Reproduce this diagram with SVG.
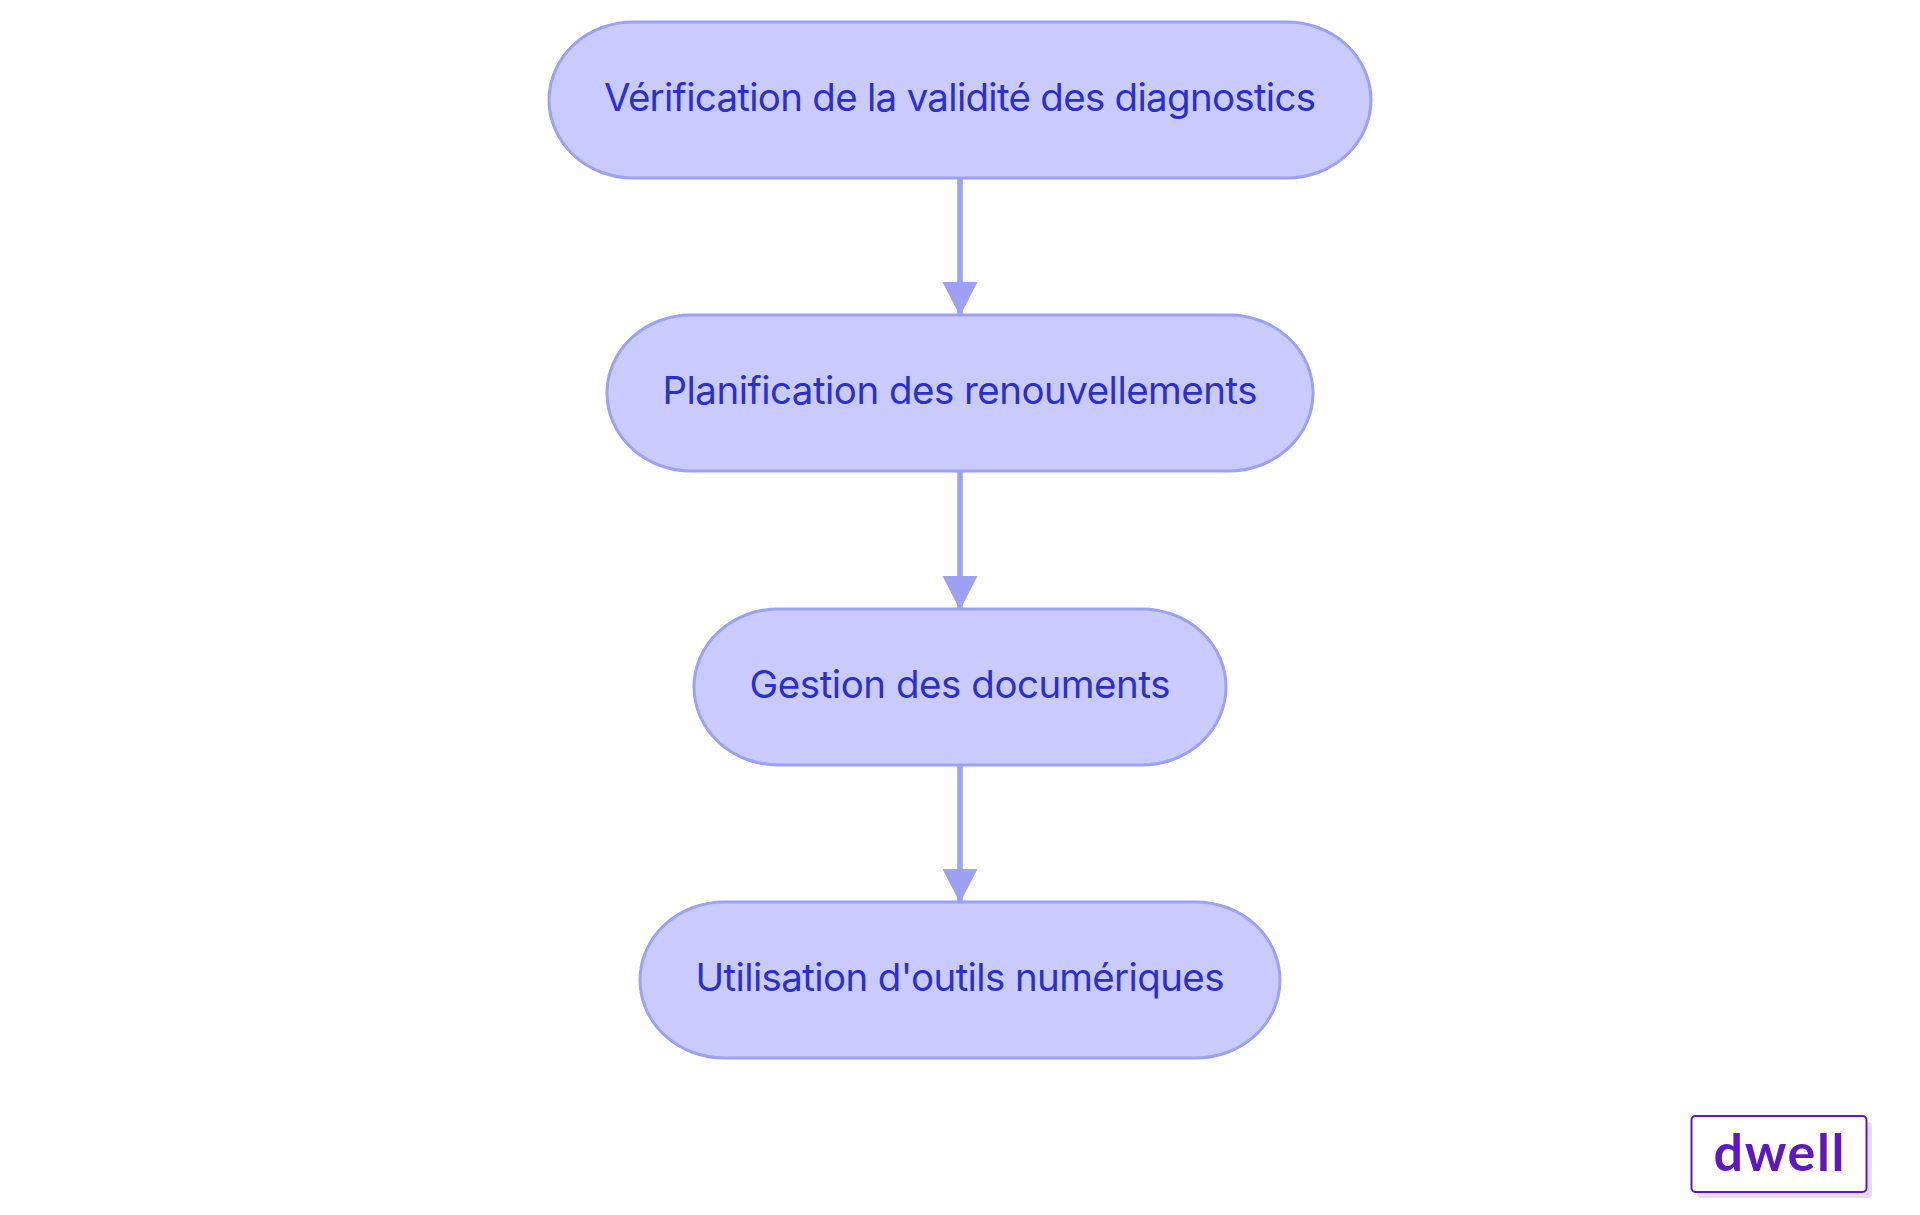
<svg xmlns="http://www.w3.org/2000/svg" width="1920" height="1215" viewBox="0 0 1920 1215">
<style>
.n{fill:#c9cbff;stroke:#9ca1f3;stroke-width:3}
.t{font-family:"Inter","Noto Sans",sans-serif;font-size:38.5px;fill:#2b2fcf;text-anchor:middle}
.e{fill:none;stroke:#9ca1f3;stroke-width:5.5}
</style>
<defs><marker id="a" markerUnits="userSpaceOnUse" markerWidth="36" markerHeight="36" refX="34" refY="17.5" orient="auto"><path d="M0 0L34 17.5L0 35Z" fill="#9ca1f3"/></marker></defs>
<rect width="1920" height="1215" fill="#fff"/>
<g id="connectors">
<path class="e" d="M960 178V316" marker-end="url(#a)"/>
<path class="e" d="M960 471V610" marker-end="url(#a)"/>
<path class="e" d="M960 765V903" marker-end="url(#a)"/>
</g>
<g id="n1"><rect class="n" x="549" y="22" width="822" height="156" rx="84" ry="78"/><text class="t" x="960" y="111" textLength="712" lengthAdjust="spacing">Vérification de la validité des diagnostics</text></g>
<g id="n2"><rect class="n" x="607" y="315" width="706" height="156" rx="84" ry="78"/><text class="t" x="960" y="404" textLength="595" lengthAdjust="spacing">Planification des renouvellements</text></g>
<g id="n3"><rect class="n" x="694" y="609" width="532" height="156" rx="84" ry="78"/><text class="t" x="960" y="698" textLength="421" lengthAdjust="spacing">Gestion des documents</text></g>
<g id="n4"><rect class="n" x="640" y="902" width="640" height="156" rx="84" ry="78"/><text class="t" x="960" y="991" textLength="529" lengthAdjust="spacing">Utilisation d'outils numériques</text></g>
<g id="logo"><rect x="1697" y="1122" width="175" height="76" rx="4" fill="#e8d9f8"/><rect x="1691.500" y="1116" width="175" height="76" rx="4" fill="#fff" stroke="#5f17c4" stroke-width="2"/><text x="1779" y="1171" font-family="Lato,sans-serif" font-weight="700" font-size="52" fill="#5f17c4" text-anchor="middle" textLength="131" lengthAdjust="spacing">dwell</text></g>
</svg>
